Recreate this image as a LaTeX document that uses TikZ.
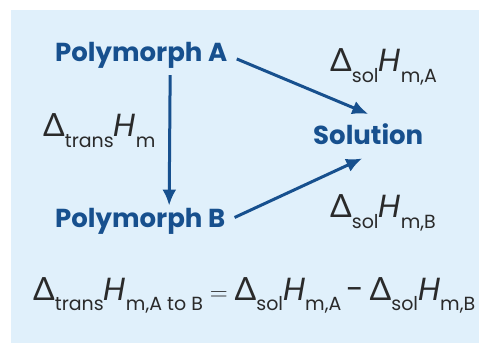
\documentclass[tikz,border=0pt]{standalone}
\usepackage{fontspec}
\setmainfont{Poppins}
\newfontfamily\deltafont{Lato}
\usetikzlibrary{arrows.meta, positioning}

\definecolor{fondo}{HTML}{E0F0FB}
\definecolor{azul}{HTML}{17508E}
\definecolor{tinta}{HTML}{2A2A2A}

\newcommand{\subtam}{\fontsize{19}{19}\selectfont}
\newcommand{\entalpia}[2]{{\deltafont Δ}\raisebox{-0.33em}{\subtam #1}\textit{H}\raisebox{-0.33em}{\subtam #2}}

\begin{document}
\begin{tikzpicture}[
        x=1pt, y=1pt,
        every node/.style={inner sep=2pt},
        forma/.style={font=\fontsize{26}{28}\selectfont\bfseries, text=azul, anchor=base west},
        etiqueta/.style={font=\fontsize{32}{34}\selectfont, text=tinta, anchor=base west},
        arr/.style={-{Latex[length=16pt, width=14pt]}, line width=3pt, draw=azul}
    ]
    \useasboundingbox (0,0) rectangle (479,343);
    \fill[fondo] (11,0) rectangle (479,333);

% --- Polimorfos y disolucion ---
    \node[forma] (polyA) at (53,281) {Polymorph A};
    \node[forma] (polyB) at (53,116) {Polymorph B};
    \node[forma] (sol) at (311,198) {Solution};

% --- Entalpias ---
    \node[etiqueta] (dsolA) at (328,271) {\entalpia{sol}{m,A}};
    \node[etiqueta] (dtrans) at (41,206) {\entalpia{trans}{m}};
    \node[etiqueta] (dsolB) at (328,125) {\entalpia{sol}{m,B}};

% --- Flechas ---
    \draw[arr, shorten <=4pt] ([xshift=29pt]polyA.south) -- ([xshift=29pt]polyB.north);
    \draw[arr, shorten <=8pt] (polyA.east) -- ([shift={(0,8)}]sol.north);
    \draw[arr, shorten <=8pt] (polyB.east) -- ([shift={(-6,-11)}]sol.south);

%--------- --- Ecuacion -------------------
    \node[etiqueta] (ecuacion) at (31,43)
        {\entalpia{trans}{m,A to B}${}={}$\entalpia{sol}{m,A}\,-\,\entalpia{sol}{m,B}};
\end{tikzpicture}
\end{document}
